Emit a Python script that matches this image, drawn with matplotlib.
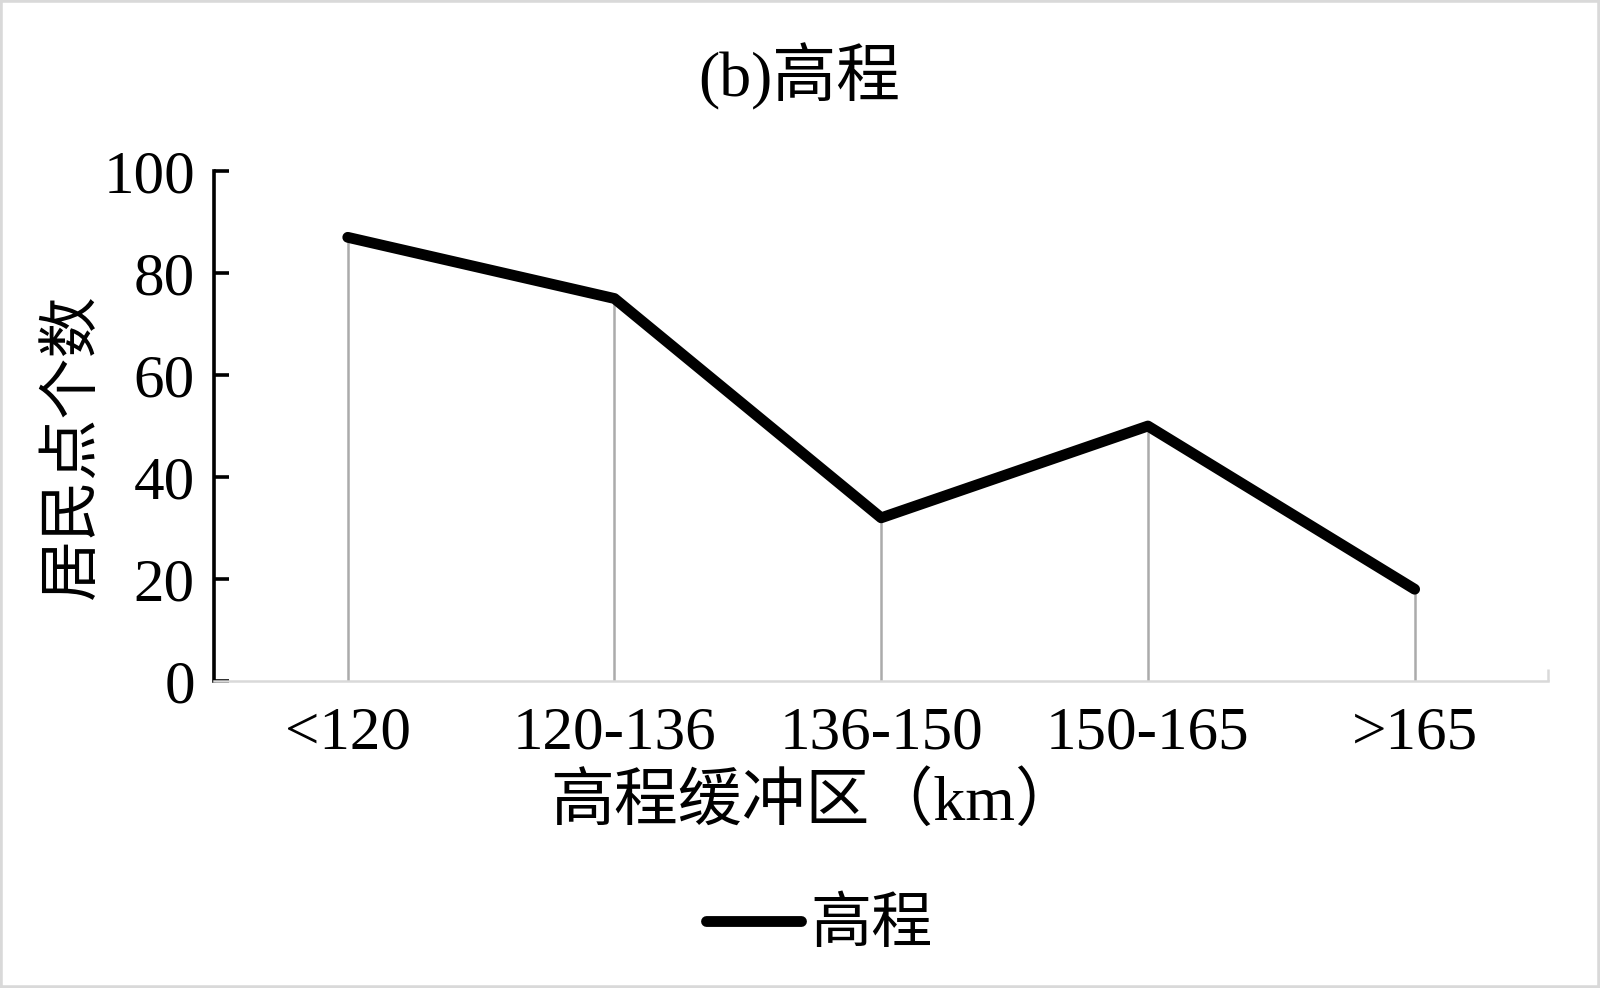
import matplotlib
matplotlib.use('Agg')
import matplotlib.pyplot as plt
from matplotlib.patches import Rectangle

plt.rcParams['font.family'] = ['Liberation Serif', 'Noto Sans CJK SC']

# data
categories = ['<120', '120-136', '136-150', '150-165', '>165']
counts = [87, 75, 32, 50, 18]
series_name = '高程'

fig = plt.figure(figsize=(16, 9.88), dpi=100)
ax = fig.add_axes([0.134, 0.3107, 0.8335, 0.5162])

x = list(range(len(categories)))
# grey drop lines from each point to the axis
ax.vlines(x, 0, counts, colors='#ababab', linewidth=1.8, zorder=1)
ax.plot(x, counts, color='black', linewidth=7.8, solid_capstyle='round',
        solid_joinstyle='round', label=series_name, zorder=2)

ax.set_xlim(-0.5, len(categories) - 0.5)
ax.set_ylim(0, 100)
ax.set_yticks([0, 20, 40, 60, 80, 100])
ax.set_xticks(x)
ax.set_xticklabels(categories)
ax.set_xticks([len(categories) - 0.5], minor=True)

for s in ['top', 'right']:
    ax.spines[s].set_visible(False)
ax.spines['left'].set_linewidth(2.6)
ax.spines['left'].set_color('black')
ax.spines['bottom'].set_color('#d9d9d9')
ax.spines['bottom'].set_linewidth(1.8)

ax.tick_params(axis='y', direction='in', length=11, width=2.6, labelsize=44, pad=14)
ax.tick_params(axis='x', which='major', length=0, labelsize=44, pad=18)
ax.tick_params(axis='x', which='minor', direction='in', length=9, width=1.8, color='#d9d9d9')

fig.text(0.4995, 0.922, '(b)高程', fontsize=46, ha='center', va='center')
fig.text(0.509, 0.187, '高程缓冲区（km）', fontsize=46, ha='center', va='center')
fig.text(0.046, 0.5486, '居民点个数', fontsize=44, ha='center', va='center',
         rotation=90)

fig.legend(loc='center', bbox_to_anchor=(0.512, 0.062), frameon=False,
           fontsize=44, handlelength=1.55, handletextpad=0.15)

# light grey frame around the whole picture
fig.patches.append(Rectangle((0, 0), 1, 1, transform=fig.transFigure,
                             fill=False, edgecolor='#d9d9d9', linewidth=4))

fig.savefig('out.png', dpi=100, facecolor='white')
